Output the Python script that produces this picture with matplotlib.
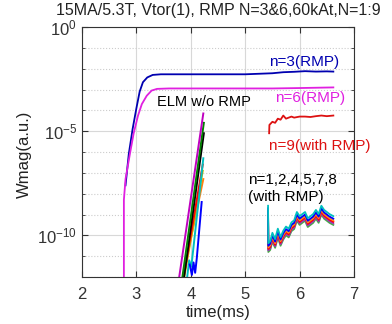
import numpy as np
import matplotlib
matplotlib.use("Agg")
import matplotlib.pyplot as plt
from matplotlib.ticker import FixedLocator, NullFormatter

plt.rcParams['font.family'] = ['Liberation Sans', 'DejaVu Sans']

# n=3 (RMP), blue  -- log10 values
t_n3 = [2.80, 2.86, 2.93, 3.00, 3.06, 3.12, 3.20, 3.30, 3.45, 4.0, 5.0, 5.5, 5.7, 5.9, 6.1, 6.3, 6.5, 6.62]
lg_n3 = [-7.6, -6.1, -4.9, -3.9, -3.1, -2.65, -2.42, -2.3, -2.27, -2.27, -2.27, -2.22, -2.17, -2.15, -2.12, -2.14, -2.13, -2.14]

# n=6 (RMP), magenta
t_n6 = [2.77, 2.77, 2.80, 2.88, 2.95, 3.03, 3.10, 3.19, 3.28, 3.38, 3.6, 4.5, 5.5, 6.0, 6.62]
lg_n6 = [-12.2, -8.3, -7.3, -6.1, -5.1, -4.25, -3.7, -3.3, -3.05, -2.97, -2.95, -2.95, -2.95, -2.93, -2.9]

# n=9 (with RMP), red
t_n9 = [5.44, 5.445, 5.50, 5.55, 5.60, 5.65, 5.70, 5.75, 5.80, 5.85, 5.90, 6.0, 6.1, 6.2, 6.3, 6.4, 6.5, 6.62]
lg_n9 = [-5.1, -4.7, -4.55, -4.6, -4.4, -4.45, -4.25, -4.4, -4.35, -4.3, -4.35, -4.3, -4.3, -4.32, -4.28, -4.25, -4.28, -4.25]

# ELM w/o RMP: time / log10 points per mode
elm_colors = ['#ff7f0e', 'y', 'r', 'c', 'k', 'g', 'm', 'b']
elm_t = [[3.83, 4.23], [3.86, 4.22], [3.85, 4.22], [3.92, 3.97, 4.01, 4.23],
         [3.86, 4.24], [3.83, 4.24], [3.77, 4.23], [3.98, 4.02, 4.05, 4.08, 4.11, 4.20]]
elm_lg = [[-12.3, -7.3], [-12.3, -6.9], [-12.3, -6.6], [-12.3, -11.2, -11.5, -6.3],
          [-12.3, -5.1], [-12.3, -4.6], [-12.3, -4.15], [-11.4, -11.9, -11.3, -11.8, -11.1, -8.4]]

# n=1,2,4,5,7,8 (with RMP)
t_low = [5.42, 5.425, 5.46, 5.50, 5.55, 5.60, 5.65, 5.70, 5.75, 5.80, 5.85, 5.90, 5.95, 6.00, 6.05, 6.10, 6.15, 6.20, 6.25, 6.30, 6.35, 6.40, 6.45, 6.50, 6.55, 6.62]
lg_low = [-8.7, -10.5, -10.4, -10.0, -10.3, -9.8, -10.2, -9.9, -9.7, -9.8, -9.5, -9.4, -9.0, -9.2, -9.1, -9.0, -9.3, -9.2, -9.1, -8.9, -9.1, -8.7, -8.9, -9.0, -9.1, -9.2]
low_colors = ['#4aa84a', '#9b30c0', 'r', '#ff8c1a', 'b', 'c']
low_offsets = [-0.3, -0.22, -0.15, -0.08, 0.0, 0.12]

fig = plt.figure(figsize=(3.92, 3.24), dpi=100)
ax = fig.add_axes([82/392, 47/324, 272/392, 250/324])

for c, tt, lg in zip(elm_colors, elm_t, elm_lg):
    ax.plot(tt, 10.0 ** np.array(lg), color=c, lw=1.4)

for c, off in zip(low_colors, low_offsets):
    ax.plot(t_low, 10.0 ** (np.array(lg_low) + off), color=c, lw=1.3)

ax.plot(t_n9, 10.0 ** np.array(lg_n9), color='#dd1111', lw=1.3)
ax.plot(t_n3, 10.0 ** np.array(lg_n3), color='#0000b0', lw=1.3)
ax.plot(t_n6, 10.0 ** np.array(lg_n6), color='#e020e0', lw=1.3)

ax.set_yscale('log')
ax.set_xlim(2, 7)
ax.set_ylim(1e-12, 1)
ax.set_xticks([2, 3, 4, 5, 6, 7])
ax.yaxis.set_major_locator(FixedLocator([1e-10, 1e-5, 1]))
ax.yaxis.set_minor_locator(FixedLocator([10.0 ** k for k in range(-12, 1)]))
ax.yaxis.set_minor_formatter(NullFormatter())
ax.grid(True, which='major', color='#d8d8d8', lw=0.8)
ax.grid(True, which='minor', axis='y', color='#cccccc', lw=0.8, ls=':')
ax.tick_params(which='both', direction='in', top=True, right=True, labelsize=12, colors='#333333')
ax.tick_params(axis='x', pad=7)
ax.tick_params(which='major', length=4)
ax.tick_params(which='minor', length=2)
for s in ax.spines.values():
    s.set_color('#333333')

ax.set_xlabel('time(ms)', fontsize=12, color='#222222')
ax.xaxis.set_label_coords(0.5, -0.11)
ax.set_ylabel('Wmag(a.u.)', fontsize=12, color='#222222')
ax.yaxis.set_label_coords(-0.185, 0.49)
ax.set_title('15MA/5.3T, Vtor(1), RMP N=3&6,60kAt,N=1:9', fontsize=11.5, pad=9, color='#222222')

ax.text(5.43, 10 ** -1.7, 'n=3(RMP)', color='#0000b0', fontsize=11, va='center')
ax.text(5.55, 10 ** -3.4, 'n=6(RMP)', color='#e020e0', fontsize=11, va='center')
ax.text(3.38, 10 ** -3.6, 'ELM w/o RMP', color='k', fontsize=10.5, va='center')
ax.text(5.43, 10 ** -5.7, 'n=9(with RMP)', color='#dd1111', fontsize=11, va='center')
ax.text(5.05, 10 ** -7.35, 'n=1,2,4,5,7,8', color='k', fontsize=11, va='center')
ax.text(5.05, 10 ** -8.15, '(with RMP)', color='k', fontsize=11, va='center')

fig.savefig('out.png', dpi=100)
